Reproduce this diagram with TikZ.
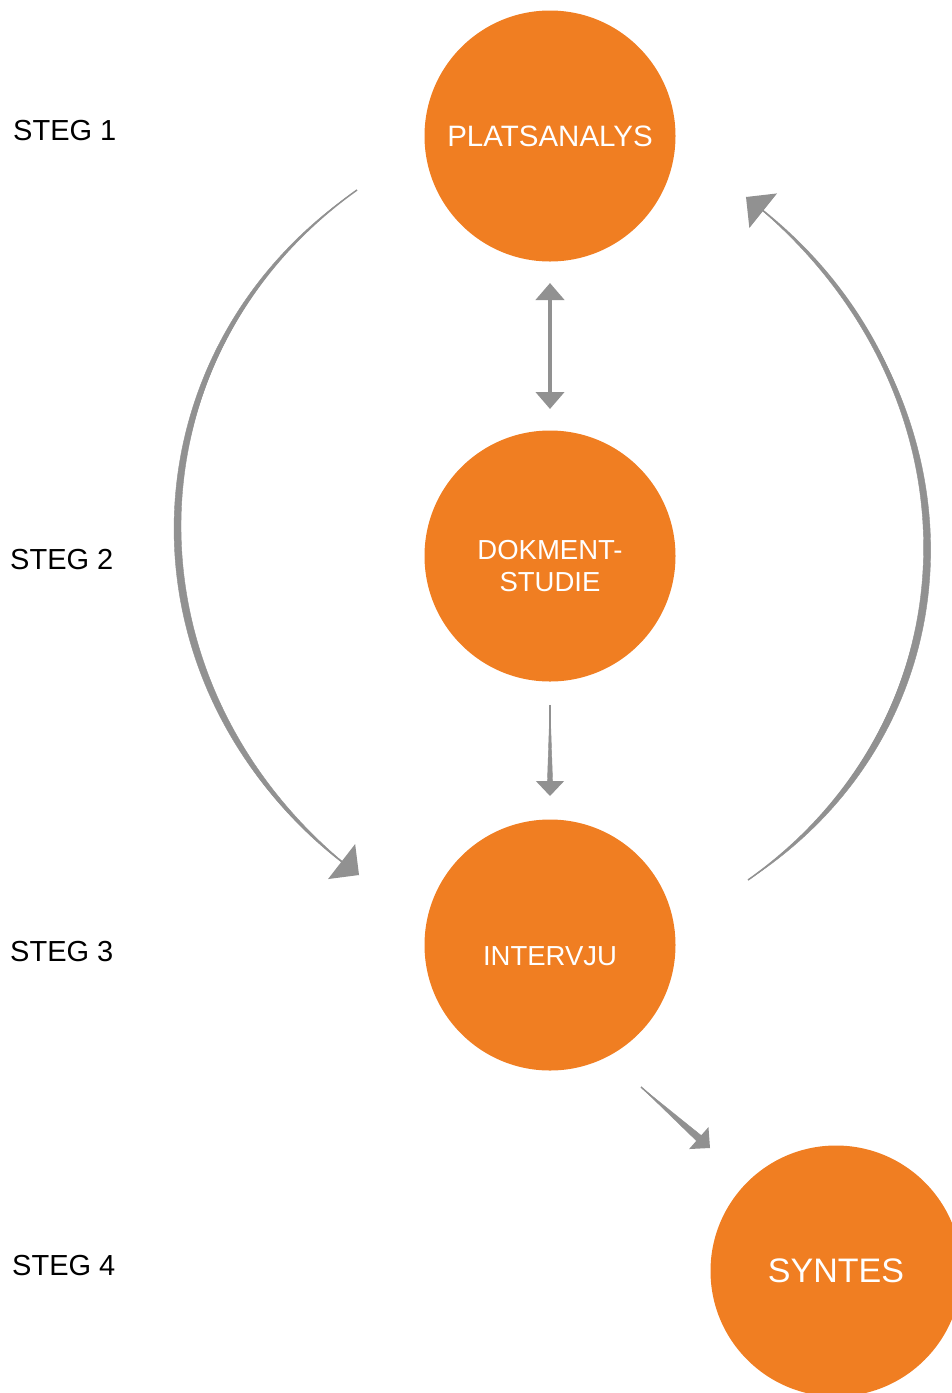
\documentclass[tikz,border=0pt]{standalone}
\usepackage{fontspec}
\setmainfont{Liberation Sans}
\usetikzlibrary{arrows.meta,calc}
\definecolor{orng}{RGB}{240,126,34}
\definecolor{arrgray}{RGB}{145,145,145}
\begin{document}
\begin{tikzpicture}[x=1pt,y=-1pt,
  stage/.style={circle,fill=orng,draw=none,minimum size=251pt,inner sep=0pt,text=white,align=center,font=\fontsize{27.5}{32}\selectfont},
  steglabel/.style={anchor=west,inner sep=0pt,font=\fontsize{29}{32}\selectfont},
  arcarrow/.style={draw=arrgray,line width=1.5pt,-{Triangle[width=44pt,length=22pt]}},
  taper/.style={fill=arrgray,draw=arrgray,line width=0.4pt,line join=round},
  dblarrow/.style={draw=arrgray,line width=4.5pt,{Triangle[width=28pt,length=17pt]}-{Triangle[width=28pt,length=17pt]}},
  downarrow/.style={draw=arrgray,line width=1.5pt,-{Triangle[width=28pt,length=15pt]}},
  diagarrow/.style={draw=arrgray,line width=1.5pt,-{Triangle[width=29pt,length=15pt]}}]
\useasboundingbox (0,0) rectangle (952,1393);
\clip (0,0) rectangle (952,1393);
% stages
\node[stage,font=\fontsize{29.5}{32}\selectfont] (plats) at (550,136) {PLATSANALYS};
\node[stage] (dok) at (550,556) {\rule{0pt}{39pt}DOKMENT-\\STUDIE};
\node[stage,text height=40pt,text depth=0pt] (interv) at (550,945) {INTERVJU};
\node[stage,font=\fontsize{34}{40}\selectfont] (syntes) at (836,1271) {SYNTES};
% step labels
\node[steglabel] (s1) at (13,131) {STEG 1};
\node[steglabel] (s2) at (10,560) {STEG 2};
\node[steglabel] (s3) at (10,952) {STEG 3};
\node[steglabel] (s4) at (12,1266) {STEG 4};
% connector end points
\coordinate (la) at (357,190);
\coordinate (lb) at (359,875);
\coordinate (ra) at (748,880);
\coordinate (rb) at (746,197);
\coordinate (va) at (550,283);
\coordinate (vb) at (550,409);
\coordinate (da) at (550,705);
\coordinate (db) at (550,796);
\coordinate (ga) at (641,1087);
\coordinate (gb) at (710,1148);
% tapered bodies
\fill[taper] (la) .. controls (124,356) and (120,690) .. (lb)
  .. controls (109,696) and (116.5,353.3) .. (la) -- cycle;
\fill[taper] (ra) .. controls (980,716) and (985,388) .. (rb)
  .. controls (992.7,385.8) and (991,722) .. (ra) -- cycle;
\coordinate (dbase) at ($(db)!14pt!(da)$);
\fill[taper] (da) -- ($(dbase)!2.6pt!90:(da)$) -- ($(dbase)!2.6pt!-90:(da)$) -- cycle;
\coordinate (gbase) at ($(gb)!14pt!(ga)$);
\fill[taper] (ga) -- ($(gbase)!3.6pt!90:(ga)$) -- ($(gbase)!3.6pt!-90:(ga)$) -- cycle;
% connectors
\draw[arcarrow] (la) .. controls (124,356) and (120,690) .. (lb);
\draw[arcarrow] (ra) .. controls (980,716) and (985,388) .. (rb);
\draw[dblarrow] (va) -- (vb);
\draw[downarrow] (da) -- (db);
\draw[diagarrow] (ga) -- (gb);
\end{tikzpicture}
\end{document}
